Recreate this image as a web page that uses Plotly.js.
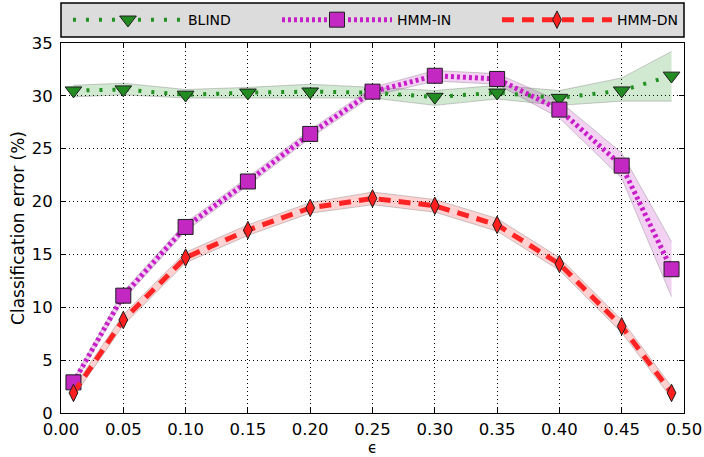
<!DOCTYPE html>
<html>
<head>
<meta charset="utf-8">
<script src="https://cdn.plot.ly/plotly-3.0.1.min.js"></script>
<style>html,body{margin:0;padding:0;background:#fff;}#chart{width:704px;height:457px;}</style>
</head>
<body>
<div id="chart"></div>
<script>
const eps = [0.01, 0.05, 0.10, 0.15, 0.20, 0.25, 0.30, 0.35, 0.40, 0.45, 0.49];

const blind   = [30.5, 30.6, 30.1, 30.3, 30.4, 30.3, 29.9, 30.3, 29.8, 30.5, 31.9];
const blindLo = [29.9, 30.1, 29.8, 29.8, 29.8, 29.8, 29.1, 29.7, 29.1, 29.5, 29.5];
const blindHi = [31.0, 31.2, 30.6, 30.8, 31.1, 30.8, 30.5, 31.0, 30.5, 31.7, 34.2];

const hmmIn   = [2.9, 11.1, 17.6, 21.9, 26.4, 30.4, 31.9, 31.6, 28.7, 23.4, 13.6];
const hmmInLo = [2.6, 10.7, 17.2, 21.5, 26.0, 30.0, 31.4, 31.1, 27.9, 22.2, 11.0];
const hmmInHi = [3.2, 11.5, 18.0, 22.3, 26.8, 30.8, 32.4, 32.1, 29.5, 24.6, 16.2];

const hmmDn   = [1.9, 8.8, 14.7, 17.3, 19.4, 20.3, 19.6, 17.8, 14.1, 8.2, 1.9];
const hmmDnLo = [1.5, 8.3, 14.2, 16.8, 18.9, 19.7, 19.0, 17.2, 13.5, 7.6, 1.4];
const hmmDnHi = [2.4, 9.3, 15.2, 17.8, 19.9, 20.9, 20.2, 18.4, 14.7, 8.8, 2.5];

const seriesNames = ['BLIND', 'HMM-IN', 'HMM-DN'];
const xTicks = [0, 0.05, 0.10, 0.15, 0.20, 0.25, 0.30, 0.35, 0.40, 0.45, 0.50];
const yTicks = [0, 5, 10, 15, 20, 25, 30, 35];

const edge = 'rgba(110,110,110,0.35)';
function band(lo, hi, fillColor) {
  return [
    {x: eps, y: lo, mode: 'lines', line: {color: edge, width: 1}, showlegend: false, hoverinfo: 'skip'},
    {x: eps, y: hi, mode: 'lines', line: {color: edge, width: 1}, fill: 'tonexty', fillcolor: fillColor, showlegend: false, hoverinfo: 'skip'}
  ];
}

const traces = [
  ...band(blindLo, blindHi, 'rgba(0,128,0,0.18)'),
  ...band(hmmInLo, hmmInHi, 'rgba(191,0,191,0.18)'),
  ...band(hmmDnLo, hmmDnHi, 'rgba(255,0,0,0.18)'),
  {x: eps, y: blind, name: seriesNames[0], legend: 'legend', mode: 'lines+markers',
   line: {color: 'rgb(34,145,34)', width: 4, dash: '3px,10px'},
   marker: {symbol: 'triangle-down', size: 14.5, color: 'rgb(34,139,34)', line: {color: 'rgb(30,30,30)', width: 1}}},
  {x: eps, y: hmmIn, name: seriesNames[1], legend: 'legend2', mode: 'lines+markers',
   line: {color: 'rgb(200,30,200)', width: 5, dash: '3px,3px'},
   marker: {symbol: 'square', size: 15, color: 'rgb(195,40,195)', line: {color: 'rgb(30,30,30)', width: 1}}},
  {x: eps, y: hmmDn, name: seriesNames[2], legend: 'legend3', mode: 'lines+markers',
   line: {color: 'rgb(255,35,35)', width: 5, dash: '12px,8px'},
   marker: {symbol: 'diamond-tall', size: 12.5, color: 'rgb(255,30,30)', line: {color: 'rgb(30,30,30)', width: 1}}}
];

const axisCommon = {
  showline: true, linecolor: '#000', linewidth: 1, mirror: 'allticks',
  ticks: 'inside', ticklen: 5, tickcolor: '#000', tickwidth: 1,
  showgrid: true, gridcolor: '#000', gridwidth: 1, griddash: '1px,3px',
  zeroline: false, tickfont: {family: 'DejaVu Sans, sans-serif', size: 16.5, color: '#000'}
};

function legendAt(x) {
  return {
    orientation: 'h', x: x, xanchor: 'left', y: 1.062, yanchor: 'middle',
    bgcolor: 'rgba(0,0,0,0)', borderwidth: 0,
    font: {family: 'DejaVu Sans, sans-serif', size: 14, color: '#000'},
    itemwidth: 110
  };
}

const layout = {
  width: 704, height: 457,
  margin: {l: 61, r: 20, t: 43, b: 44, autoexpand: false},
  paper_bgcolor: '#fff', plot_bgcolor: '#fff',
  font: {family: 'DejaVu Sans, sans-serif', color: '#000'},
  xaxis: Object.assign({}, axisCommon, {
    range: [0, 0.5], tickvals: xTicks, tickformat: '.2f', ticklabelstandoff: 1,
    title: {text: 'ϵ', font: {size: 15, family: 'DejaVu Sans, sans-serif'}, standoff: 0}
  }),
  yaxis: Object.assign({}, axisCommon, {
    range: [0, 35], tickvals: yTicks, ticklabelstandoff: 4,
    title: {text: 'Classification error (%)', font: {size: 17, family: 'DejaVu Sans, sans-serif'}, standoff: 2}
  }),
  shapes: [{type: 'rect', xref: 'paper', yref: 'paper', x0: 0, x1: 1, y0: 1.0162, y1: 1.108,
            fillcolor: '#dcdcdc', line: {color: '#000', width: 1.5}, layer: 'below'}],
  showlegend: true,
  legend: legendAt(0.0112),
  legend2: legendAt(0.3467),
  legend3: legendAt(0.6998)
};

Plotly.newPlot('chart', traces, layout, {displayModeBar: false, staticPlot: true});
</script>
</body>
</html>
